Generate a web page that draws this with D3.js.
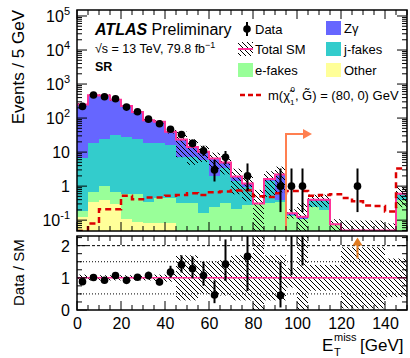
<!DOCTYPE html>
<html>
<head>
<meta charset="utf-8">
<script src="https://cdn.jsdelivr.net/npm/d3@7"></script>
<style>
body{margin:0;background:#fff;}
text{font-family:"Liberation Sans",Arial,sans-serif;fill:#000;}
</style>
</head>
<body>
<div id="chart-area"></div>
<script>
// E_T^miss bins, 5 GeV wide, 0-150 GeV
const binLow = d3.range(0, 150, 5);
const dataCounts = [220,475,425,370,210,154,93,68,47,33,18,11,3,7,0,2,0,0,1,1,1,0,0,0,0,1,0,0,0,0];
const zgamma  = [243,452,435,313,200,127.5,69,60,24,16.4,6.7,4.5,4.5,1.4,0.5,0.25,0.01,0.2,1.8,0.02,0.015,0.03,0.03,0,0,0,0,0,0,0];
const jfakes  = [6.4,17.3,24,31,27.4,22.9,17.6,17.5,15.5,6.7,7,5.6,1.7,3.2,1.2,0.67,0,1.1,0.05,0.01,0,0.12,0.17,0,0,0,0,0,0,0.21];
const efakes  = [0.06,0.3,0.6,0.35,0.49,0.51,0.27,0.37,0.37,0.32,0.32,0.16,0.24,0.31,0.22,0.28,0.3,0.31,0.35,0.13,0.11,0.25,0.2,0.076,0.05,0.05,0.05,0.05,0.05,0.39];
const other   = [0.12,0.35,0.4,0.3,0.11,0.09,0.08,0.08,0.08,0,0,0,0,0,0,0,0,0,0,0,0,0,0,0,0,0,0,0,0,0];
// relative uncertainty on total SM
const smUnc   = [0.1,0.08,0.08,0.08,0.08,0.08,0.08,0.1,0.12,0.7,0.7,0.5,0.5,0.55,0.7,0.7,1.5,0.7,0.7,0.3,1.5,0.4,0.4,0.4,0.95,0.95,0.95,0.95,0.6,0.6];
// signal m(chi,G)=(80,0) GeV
const signal  = [0.03,0.08,0.21,0.21,0.52,0.41,0.46,0.46,0.52,0.55,0.62,0.55,0.66,0.7,0.74,0.76,0.5,0.48,0.62,0.72,0.72,0.52,0.55,0.58,0.45,0.36,0.27,0.26,0.18,3.3];
const xTicks = [0,20,40,60,80,100,120,140];
const yMainTicks = [0.1,1,10,100,1e3,1e4,1e5];
const ratioTicks = [0,1,2];
const srCut = 95;

const W = 410, H = 358;
const mL = 77, mR = 407, mT = 10, mB = 231, rT = 236, rB = 310;
const yMin = 0.048;

const svg = d3.select('#chart-area').append('svg').attr('width', W).attr('height', H);
const defs = svg.append('defs');
const pat = defs.append('pattern').attr('id','hatch').attr('patternUnits','userSpaceOnUse')
    .attr('width',5).attr('height',5);
pat.append('path').attr('d','M-1,-1L6,6M4,-1L6,1M-1,4L1,6').attr('stroke','#000').attr('stroke-width',1);
defs.append('clipPath').attr('id','clipMain').append('rect')
    .attr('x',mL).attr('y',mT).attr('width',mR-mL).attr('height',mB-mT);
defs.append('clipPath').attr('id','clipRatio').append('rect')
    .attr('x',mL).attr('y',rT).attr('width',mR-mL).attr('height',rB-rT);

const x = d3.scaleLinear().domain([0,150]).range([mL,mR]);
const y = d3.scaleLog().domain([yMin,1.5e5]).range([mB,mT]).clamp(true);
const yr = d3.scaleLinear().domain([0,2.3]).range([rB,rT]);

// stack
const keys = ['other','efakes','jfakes','zgamma'];
const colors = {other:'#ffff99', efakes:'#99ff99', jfakes:'#33cccc', zgamma:'#6666ff'};
const rows = binLow.map((b,i)=>({lo:b, other:other[i], efakes:efakes[i], jfakes:jfakes[i], zgamma:zgamma[i]}));
const stacked = d3.stack().keys(keys)(rows);
const total = rows.map(r=>keys.reduce((s,k)=>s+r[k],0));

const gMain = svg.append('g').attr('clip-path','url(#clipMain)');
stacked.forEach(layer=>{
    gMain.append('g').selectAll('rect')
        .data(layer.filter(d=>d[1]>d[0] && d[1]>yMin))
        .join('rect')
        .attr('x', d=>x(d.data.lo))
        .attr('width', d=>x(d.data.lo+5)-x(d.data.lo))
        .attr('y', d=>y(d[1]))
        .attr('height', d=>y(Math.max(d[0],yMin))-y(d[1]))
        .attr('fill', colors[layer.key])
        .attr('shape-rendering','crispEdges');
});

// uncertainty band
gMain.append('g').selectAll('rect')
    .data(binLow)
    .join('rect')
    .attr('x', d=>x(d))
    .attr('width', d=>x(d+5)-x(d))
    .attr('y', (d,i)=>y(total[i]*(1+smUnc[i])))
    .attr('height', (d,i)=>y(Math.max(total[i]*(1-smUnc[i]),yMin))-y(total[i]*(1+smUnc[i])))
    .attr('fill','url(#hatch)');

// total SM line
const stepPts = binLow.map((b,i)=>[b,total[i]]).concat([[150,total[total.length-1]]]);
const stepLine = d3.line().x(d=>x(d[0])).y(d=>y(d[1])).curve(d3.curveStepAfter);
gMain.append('path').attr('d', stepLine(stepPts))
    .attr('fill','none').attr('stroke','#ff3399').attr('stroke-width',2);

// signal
const sigPts = binLow.map((b,i)=>[b,signal[i]]).concat([[150,signal[signal.length-1]]]);
gMain.append('path').attr('d', stepLine(sigPts))
    .attr('fill','none').attr('stroke','#dd0000').attr('stroke-width',2.5)
    .attr('stroke-dasharray','6,4');

// poisson (garwood) intervals
function poisCdf(n, mu){
    let logt = -mu, s = Math.exp(logt);
    for(let k=1;k<=n;k++){ logt += Math.log(mu)-Math.log(k); s += Math.exp(logt); }
    return s;
}
function garwood(n){
    const a = 0.158655;
    const bis = (f,lo,hi)=>{ for(let i=0;i<80;i++){ const m=(lo+hi)/2; if(f(m)>0) lo=m; else hi=m; } return (lo+hi)/2; };
    const hi = n + 10*Math.sqrt(n) + 10;
    const low = n===0 ? 0 : bis(mu=>a-(1-poisCdf(n-1,mu)), 0, hi);
    const up = bis(mu=>poisCdf(n,mu)-a, 0, hi);
    return [low, up];
}
const pts = binLow.map((b,i)=>{
    const n = dataCounts[i];
    const [lo,up] = garwood(n);
    return {c:b+2.5, n, lo, up, sm:total[i]};
}).filter(d=>d.n>0);

// data in main panel
const gData = svg.append('g').attr('clip-path','url(#clipMain)');
gData.selectAll('line').data(pts).join('line')
    .attr('x1',d=>x(d.c)).attr('x2',d=>x(d.c))
    .attr('y1',d=>y(d.lo>0?d.lo:yMin)).attr('y2',d=>y(d.up))
    .attr('stroke','#000').attr('stroke-width',2);
gData.selectAll('circle').data(pts).join('circle')
    .attr('cx',d=>x(d.c)).attr('cy',d=>y(d.n)).attr('r',3.8).attr('fill','#000');

// SR cut arrow
const arrowColor = '#ff7f50';
const yArrow = 134;
svg.append('path')
    .attr('d',`M${x(srCut)},${mB}V${yArrow}H${x(srCut)+18}`)
    .attr('fill','none').attr('stroke',arrowColor).attr('stroke-width',2);
svg.append('path')
    .attr('d',`M${x(srCut)+26},${yArrow}l-9,-5v10z`)
    .attr('fill',arrowColor);

// ratio panel
const gR = svg.append('g').attr('clip-path','url(#clipRatio)');
[0.5,1.5].forEach(v=>{
    gR.append('line').attr('x1',mL).attr('x2',mR).attr('y1',yr(v)).attr('y2',yr(v))
        .attr('stroke','#000').attr('stroke-width',1).attr('stroke-dasharray','1,2');
});
gR.append('line').attr('x1',mL).attr('x2',mR).attr('y1',yr(2)).attr('y2',yr(2))
    .attr('stroke','#000').attr('stroke-width',1).attr('stroke-dasharray','3,2');
gR.append('g').selectAll('rect')
    .data(binLow)
    .join('rect')
    .attr('x', d=>x(d))
    .attr('width', d=>x(d+5)-x(d))
    .attr('y', (d,i)=>yr(1+smUnc[i]))
    .attr('height', (d,i)=>yr(Math.max(1-smUnc[i],0))-yr(1+smUnc[i]))
    .attr('fill','url(#hatch)');
gR.append('line').attr('x1',mL).attr('x2',mR).attr('y1',yr(1)).attr('y2',yr(1))
    .attr('stroke','#ff3399').attr('stroke-width',1.5);

const rPts = pts.map(d=>({c:d.c, r:d.n/d.sm, lo:d.lo/d.sm, up:d.up/d.sm}));
const inR = rPts.filter(d=>d.lo<2.3);
gR.selectAll('line.err').data(inR).join('line').attr('class','err')
    .attr('x1',d=>x(d.c)).attr('x2',d=>x(d.c))
    .attr('y1',d=>yr(d.lo)).attr('y2',d=>yr(Math.min(d.up,3)))
    .attr('stroke','#000').attr('stroke-width',2);
gR.selectAll('circle').data(inR.filter(d=>d.r<2.3)).join('circle')
    .attr('cx',d=>x(d.c)).attr('cy',d=>yr(d.r)).attr('r',3.8).attr('fill','#000');
const outR = rPts.filter(d=>d.lo>=2.3);
outR.forEach(d=>{
    svg.append('line').attr('x1',x(d.c)).attr('x2',x(d.c)).attr('y1',yr(1.6)).attr('y2',yr(2.1))
        .attr('stroke','#e07b20').attr('stroke-width',2);
    svg.append('path').attr('d',`M${x(d.c)},${yr(2.25)}l-5,8h10z`).attr('fill','#e07b20');
});

// axes: inward ticks on all sides
function xAxes(top, bottom, labels){
    const minor = d3.range(0,151,5).filter(v=>v%20!==0);
    const major = xTicks;
    const g = svg.append('g');
    [[top,1],[bottom,-1]].forEach(([yy,dir])=>{
        g.selectAll(null).data(minor).join('line')
            .attr('x1',d=>x(d)).attr('x2',d=>x(d)).attr('y1',yy).attr('y2',yy+dir*5)
            .attr('stroke','#000').attr('stroke-width',1);
        g.selectAll(null).data(major).join('line')
            .attr('x1',d=>x(d)).attr('x2',d=>x(d)).attr('y1',yy).attr('y2',yy+dir*9)
            .attr('stroke','#000').attr('stroke-width',1);
    });
    if(labels){
        const ax = d3.axisBottom(x).tickValues(xTicks).tickSize(0).tickPadding(8);
        const ga = svg.append('g').attr('transform',`translate(0,${bottom})`).call(ax);
        ga.select('.domain').remove();
        ga.selectAll('text').style('font-size','16px').style('font-family','"Liberation Sans",Arial,sans-serif');
    }
}
xAxes(mT, mB, false);
xAxes(rT, rB, true);

// main y ticks
const yMajor = yMainTicks;
const yMinor = y.ticks().filter(v=>{ const l=Math.log10(v); return Math.abs(l-Math.round(l))>1e-6; });
const gy = svg.append('g');
[[mL,1],[mR,-1]].forEach(([xx,dir])=>{
    gy.selectAll(null).data(yMinor).join('line')
        .attr('x1',xx).attr('x2',xx+dir*5).attr('y1',d=>y(d)).attr('y2',d=>y(d))
        .attr('stroke','#000').attr('stroke-width',1);
    gy.selectAll(null).data(yMajor).join('line')
        .attr('x1',xx).attr('x2',xx+dir*10).attr('y1',d=>y(d)).attr('y2',d=>y(d))
        .attr('stroke','#000').attr('stroke-width',1);
});
const yLab = gy.selectAll('text.yl').data(yMajor).join('text').attr('class','yl')
    .attr('x',mL-7).attr('y',d=>y(d)+6).attr('text-anchor','end').style('font-size','16px');
yLab.each(function(d){
    const t = d3.select(this);
    const e = Math.round(Math.log10(d));
    if(e===0){ t.text('1'); }
    else if(e===1){ t.text('10'); }
    else {
        t.append('tspan').text('10');
        t.append('tspan').attr('dy',-7).style('font-size','11px').text(e);
    }
});

// ratio y ticks
const rMinor = d3.range(0,2.3,0.25).filter(v=>v%1!==0);
[[mL,1],[mR,-1]].forEach(([xx,dir])=>{
    gy.selectAll(null).data(rMinor).join('line')
        .attr('x1',xx).attr('x2',xx+dir*5).attr('y1',d=>yr(d)).attr('y2',d=>yr(d))
        .attr('stroke','#000').attr('stroke-width',1);
    gy.selectAll(null).data(ratioTicks).join('line')
        .attr('x1',xx).attr('x2',xx+dir*10).attr('y1',d=>yr(d)).attr('y2',d=>yr(d))
        .attr('stroke','#000').attr('stroke-width',1);
});
gy.selectAll('text.rl').data(ratioTicks).join('text').attr('class','rl')
    .attr('x',mL-7).attr('y',d=>yr(d)+6).attr('text-anchor','end').style('font-size','16px')
    .text(d=>d);

// frames
svg.append('rect').attr('x',mL).attr('y',mT).attr('width',mR-mL).attr('height',mB-mT)
    .attr('fill','none').attr('stroke','#000').attr('stroke-width',1.5);
svg.append('rect').attr('x',mL).attr('y',rT).attr('width',mR-mL).attr('height',rB-rT)
    .attr('fill','none').attr('stroke','#000').attr('stroke-width',1.5);

// axis titles
svg.append('text').attr('transform',`translate(24,${mT})rotate(-90)`).attr('text-anchor','end')
    .style('font-size','17px').text('Events / 5 GeV');
svg.append('text').attr('transform',`translate(24,${rB-4})rotate(-90)`).attr('text-anchor','start')
    .style('font-size','15px').text('Data / SM');
const gxt = svg.append('g').style('font-size','17px');
gxt.append('text').attr('x',322).attr('y',351).text('E');
gxt.append('text').attr('x',334).attr('y',356).style('font-size','11px').text('T');
gxt.append('text').attr('x',334).attr('y',341).style('font-size','11px').text('miss');
gxt.append('text').attr('x',360).attr('y',351).text('[GeV]');

// ATLAS label
const at = svg.append('text').attr('x',95).attr('y',35).style('font-size','16px');
at.append('tspan').style('font-weight','bold').style('font-style','italic').text('ATLAS');
at.append('tspan').text(' Preliminary');
const en = svg.append('text').attr('x',95).attr('y',53).style('font-size','12.5px');
en.append('tspan').text('\u221As = 13 TeV, 79.8 fb');
en.append('tspan').attr('dy',-5).style('font-size','9px').text('\u22121');
svg.append('text').attr('x',95).attr('y',71).style('font-size','12.5px').style('font-weight','bold').text('SR');

// legend
const lg = svg.append('g').style('font-size','13px');
lg.append('line').attr('x1',247).attr('x2',247).attr('y1',22).attr('y2',36).attr('stroke','#000').attr('stroke-width',2);
lg.append('circle').attr('cx',247).attr('cy',29).attr('r',3.8).attr('fill','#000');
lg.append('text').attr('x',255).attr('y',34).text('Data');
lg.append('rect').attr('x',238).attr('y',42).attr('width',15).attr('height',14).attr('fill','url(#hatch)');
lg.append('line').attr('x1',238).attr('x2',253).attr('y1',49).attr('y2',49).attr('stroke','#ff3399').attr('stroke-width',2);
lg.append('text').attr('x',255).attr('y',54).text('Total SM');
lg.append('rect').attr('x',238).attr('y',63).attr('width',15).attr('height',14).attr('fill',colors.efakes);
lg.append('text').attr('x',255).attr('y',75).text('e-fakes');
[['zgamma','Z\u03B3',21],['jfakes','j-fakes',42],['other','Other',63]].forEach(([k,l,yy])=>{
    lg.append('rect').attr('x',326).attr('y',yy).attr('width',15).attr('height',14).attr('fill',colors[k]);
    lg.append('text').attr('x',344).attr('y',yy+12).text(l);
});
lg.append('line').attr('x1',240).attr('x2',262).attr('y1',95).attr('y2',95)
    .attr('stroke','#dd0000').attr('stroke-width',2.5).attr('stroke-dasharray','5,3');
const st = lg.append('text').attr('x',268).attr('y',100);
st.append('tspan').text('m(\u03C7\u0303');
st.append('tspan').attr('dy',5).style('font-size','8px').text('1');
st.append('tspan').attr('dx',-4).attr('dy',-13).style('font-size','8px').text('0');
st.append('tspan').attr('dy',8).text(', G\u0303) = (80, 0) GeV');
</script>
</body>
</html>
